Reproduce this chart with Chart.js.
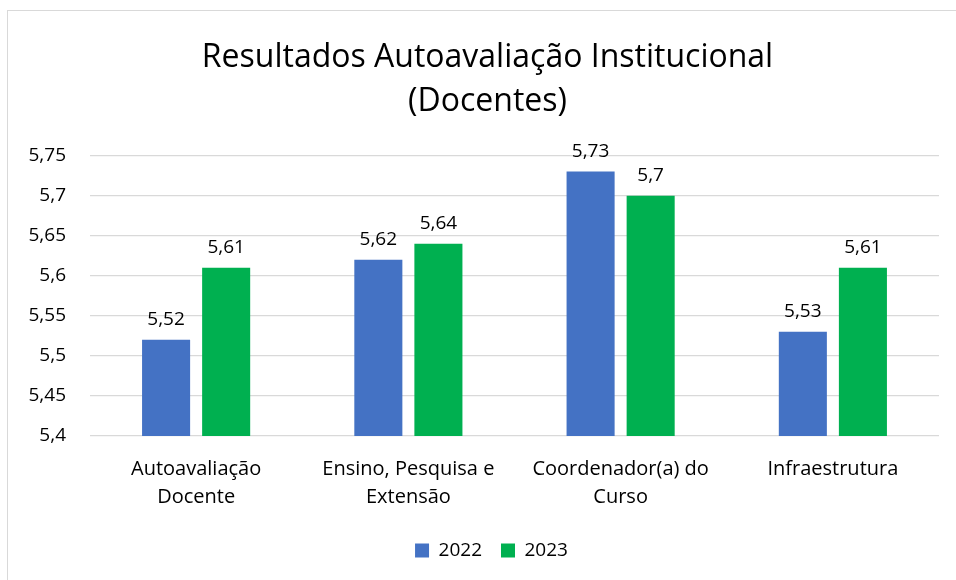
<!DOCTYPE html>
<html>
<head>
<meta charset="utf-8">
<script src="https://cdn.jsdelivr.net/npm/chart.js@4"></script>
<style>
    html, body { margin: 0; padding: 0; background: #fff; overflow: hidden; }
    #moldura {
        position: absolute; left: 7px; top: 10px;
        width: 1000px; height: 620px;
        border: 1px solid #d9d9d9;
    }
    #grafico { position: absolute; left: 0; top: 0; }
</style>
</head>
<body>
<div id="moldura"></div>
<canvas id="grafico" width="956" height="580"></canvas>
<script>
// Dados
const categorias = [
    ['Autoavaliação', 'Docente'],
    ['Ensino, Pesquisa e', 'Extensão'],
    ['Coordenador(a) do', 'Curso'],
    ['Infraestrutura']
];
const anos = ['2022', '2023'];
const valores2022 = [5.52, 5.62, 5.73, 5.53];
const valores2023 = [5.61, 5.64, 5.70, 5.61];
const ticksY = [5.4, 5.45, 5.5, 5.55, 5.6, 5.65, 5.7, 5.75];

const FONTE = '"Open Sans", Lato, sans-serif';

// formata número no padrão pt-BR (vírgula decimal)
function formatar(v) {
    return Number(v.toFixed(2)).toString().replace('.', ',');
}

// Plugin para rótulos de dados acima das barras
const rotulosBarras = {
    id: 'rotulosBarras',
    afterLayout(chart) {
        // no original, título e legenda ficam um pouco deslocados para a direita
        chart.legend.left += 17;
        chart.legend.right += 17;
        chart.titleBlock.left += 13;
        chart.titleBlock.right += 13;
    },
    afterDatasetsDraw(chart) {
        const ctx = chart.ctx;
        ctx.save();
        ctx.font = '19px ' + FONTE;
        ctx.fillStyle = '#000';
        ctx.textAlign = 'center';
        ctx.textBaseline = 'bottom';
        chart.data.datasets.forEach((ds, i) => {
            chart.getDatasetMeta(i).data.forEach((barra, j) => {
                ctx.fillText(formatar(ds.data[j]), barra.x, barra.y - 11);
            });
        });
        ctx.restore();
    }
};

new Chart(document.getElementById('grafico'), {
    type: 'bar',
    data: {
        labels: categorias,
        datasets: [
            { label: anos[0], data: valores2022, backgroundColor: '#4472C4' },
            { label: anos[1], data: valores2023, backgroundColor: '#00B050' }
        ]
    },
    options: {
        responsive: false,
        animation: false,
        devicePixelRatio: 1,
        categoryPercentage: 0.566,
        barPercentage: 0.8,
        layout: { padding: { left: 10, right: 17, top: 22, bottom: 10 } },
        plugins: {
            title: {
                display: true,
                text: ['Resultados Autoavaliação Institucional', '(Docentes)'],
                color: '#000',
                font: { family: FONTE, size: 32, weight: 'normal', lineHeight: 1.4 },
                padding: { top: 13, bottom: 31 }
            },
            legend: {
                position: 'bottom',
                labels: {
                    color: '#000',
                    font: { family: FONTE, size: 19 },
                    boxWidth: 14,
                    boxHeight: 14,
                    padding: 19
                }
            },
            tooltip: { enabled: false }
        },
        scales: {
            x: {
                grid: { display: false },
                border: { display: false },
                ticks: {
                    color: '#000',
                    font: { family: FONTE, size: 20, lineHeight: 1.4 },
                    padding: 11,
                    maxRotation: 0
                }
            },
            y: {
                min: 5.4,
                max: 5.75,
                afterBuildTicks: (axis) => {
                    axis.ticks = ticksY.map(v => ({ value: v }));
                },
                afterFit: (axis) => { axis.width = 80; },
                grid: { color: '#d9d9d9', lineWidth: 1.3, drawTicks: false },
                border: { display: false },
                ticks: {
                    color: '#000',
                    font: { family: FONTE, size: 19 },
                    padding: 24,
                    callback: (v) => formatar(v)
                }
            }
        }
    },
    plugins: [rotulosBarras]
});
</script>
</body>
</html>
